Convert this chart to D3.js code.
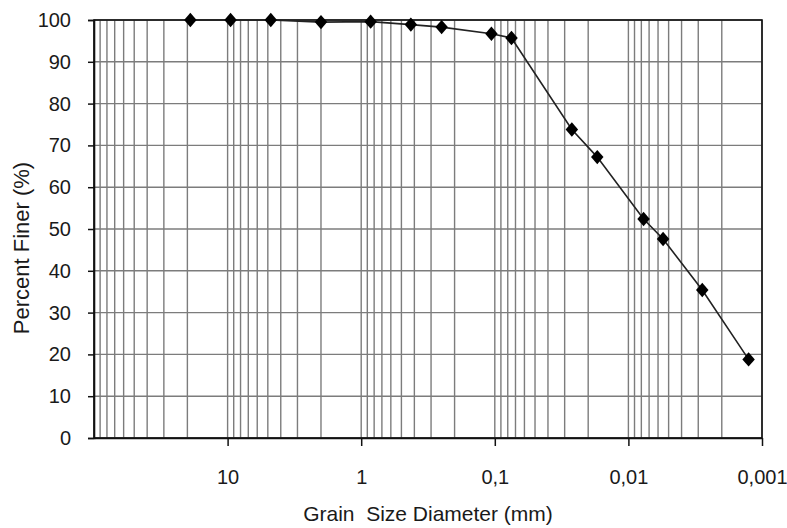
<!DOCTYPE html>
<html>
<head>
<meta charset="utf-8">
<script src="https://cdn.jsdelivr.net/npm/d3@7"></script>
<style>
  body { margin: 0; background: #fff; }
  text { font-family: "Liberation Sans", Arial, sans-serif; fill: #1a1a1a; }
</style>
</head>
<body>
<svg id="chart" width="787" height="528"></svg>
<script>
/*global d3
 */

// grain size (mm) and percent passing
const grainSize = [19, 9.5, 4.75, 2.0, 0.85, 0.425, 0.25, 0.106, 0.075,
  0.0265, 0.0171, 0.0077, 0.0055, 0.0028, 0.00126];
const percentFiner = [100, 100, 100, 99.5, 99.6, 98.9, 98.3, 96.7, 95.7,
  73.8, 67.2, 52.4, 47.6, 35.4, 18.8];

const xTickValues = [10, 1, 0.1, 0.01, 0.001];
const xTickLabels = ["10", "1", "0,1", "0,01", "0,001"];
const yTickValues = [0, 10, 20, 30, 40, 50, 60, 70, 80, 90, 100];

const plotLeft = 94, plotRight = 762, plotTop = 20, plotBottom = 438;

const svg = d3.select("#chart");

let x = d3.scaleLog().domain([100, 0.001]).range([plotLeft, plotRight]);
let y = d3.scaleLinear().domain([0, 100]).range([plotBottom, plotTop]);

// grid: every 1..9 multiple of each decade, and every 10 %
let grid = svg.append("g").attr("stroke", "#7c7c7c").attr("stroke-width", 1.4);
grid.selectAll("line.v")
  .data(x.ticks())
  .join("line")
  .attr("class", "v")
  .attr("x1", d => x(d)).attr("x2", d => x(d))
  .attr("y1", plotTop).attr("y2", plotBottom);
grid.selectAll("line.h")
  .data(yTickValues)
  .join("line")
  .attr("class", "h")
  .attr("x1", plotLeft).attr("x2", plotRight)
  .attr("y1", d => y(d)).attr("y2", d => y(d));

// frame
svg.append("rect")
  .attr("x", plotLeft).attr("y", plotTop)
  .attr("width", plotRight - plotLeft).attr("height", plotBottom - plotTop)
  .attr("fill", "none")
  .attr("stroke", "#111")
  .attr("stroke-width", 1.6);

// axes
let xAxis = d3.axisBottom(x)
  .tickValues(xTickValues)
  .tickFormat((d, i) => xTickLabels[i])
  .tickSizeInner(8)
  .tickSizeOuter(0)
  .tickPadding(24);
let gx = svg.append("g")
  .attr("transform", "translate(0," + plotBottom + ")")
  .call(xAxis);

let yAxis = d3.axisLeft(y)
  .tickValues(yTickValues)
  .tickSize(6)
  .tickPadding(17);
let gy = svg.append("g")
  .attr("transform", "translate(" + plotLeft + ",0)")
  .call(yAxis);

[gx, gy].forEach(g => {
  g.select(".domain").attr("stroke", "#111").attr("stroke-width", 1.6);
  g.selectAll(".tick line").attr("stroke", "#111").attr("stroke-width", 1.5);
  g.selectAll(".tick text")
    .attr("font-family", "Liberation Sans, Arial, sans-serif")
    .attr("font-size", 20)
    .attr("fill", "#1a1a1a");
});

// titles
svg.append("text")
  .attr("x", (plotLeft + plotRight) / 2)
  .attr("y", 521)
  .attr("text-anchor", "middle")
  .attr("font-size", 21)
  .style("white-space", "pre")
  .text("Grain  Size Diameter (mm)");

svg.append("text")
  .attr("transform", "translate(29,248) rotate(-90)")
  .attr("text-anchor", "middle")
  .attr("font-size", 22)
  .text("Percent Finer (%)");

// curve and markers
let points = grainSize.map((d, i) => [d, percentFiner[i]]);

let line = d3.line()
  .x(d => x(d[0]))
  .y(d => y(d[1]));

svg.append("path")
  .datum(points)
  .attr("d", line)
  .attr("fill", "none")
  .attr("stroke", "#222")
  .attr("stroke-width", 1.6);

svg.selectAll("path.marker")
  .data(points)
  .join("path")
  .attr("class", "marker")
  .attr("d", d3.symbol(d3.symbolSquare, 78))
  .attr("transform", d => "translate(" + x(d[0]) + "," + y(d[1]) + ") scale(1,1.15) rotate(45)")
  .attr("fill", "#000");
</script>
</body>
</html>
